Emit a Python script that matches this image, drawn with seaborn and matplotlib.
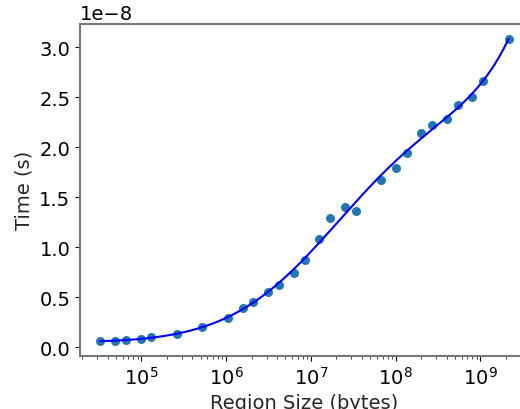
import numpy as np
import pandas as pd
import matplotlib
matplotlib.use("Agg")
import matplotlib.pyplot as plt
import seaborn as sns

sizes = [32768, 49152, 65536, 98304, 131072, 262144, 524288, 1048576,
         1572864, 2097152, 3145728, 4194304, 6291456, 8388608, 12582912,
         16777216, 25165824, 33554432, 67108864, 100663296, 134217728,
         201326592, 268435456, 402653184, 536870912, 805306368,
         1073741824, 2147483648]
times_e8 = [0.064, 0.064, 0.070, 0.084, 0.100, 0.137, 0.204, 0.297,
            0.390, 0.450, 0.554, 0.620, 0.740, 0.877, 1.080,
            1.297, 1.404, 1.364, 1.674, 1.797, 1.940,
            2.147, 2.220, 2.287, 2.424, 2.507,
            2.667, 3.087]

x = np.array(sizes, dtype=float)
y = np.array(times_e8) * 1e-8
df = pd.DataFrame({"size": x, "time": y})

# smooth fit: polynomial in log-log space
lx = np.log10(x)
coef = np.polyfit(lx, np.log10(y), 5)
xs = np.logspace(lx.min(), lx.max(), 300)
fit = pd.DataFrame({"size": xs, "time": 10 ** np.polyval(coef, np.log10(xs))})

sns.set_style("ticks")
plt.rcParams["font.family"] = ["DejaVu Sans"]

fig = plt.figure(figsize=(5.2, 4.1), dpi=100)
ax = fig.add_axes([80/520, 53/410, 449/520, 332.5/410])
sns.scatterplot(data=df, x="size", y="time", ax=ax, color="#1f77b4",
                s=42, linewidth=0, zorder=2)
sns.lineplot(data=fit, x="size", y="time", ax=ax, color="blue",
             linewidth=1.5, zorder=3)
ax.set_xscale("log")
lmin, lmax = lx.min(), lx.max()
ax.set_xlim(10 ** (lmin - 0.05 * (lmax - lmin)), 10 ** (lmax + 0.05 * (lmax - lmin)))
ymin, ymax = y.min(), y.max()
ax.set_ylim(ymin - 0.05 * (ymax - ymin), ymax + 0.05 * (ymax - ymin))
ax.set_xlabel("Region Size (bytes)", fontsize=14)
ax.set_ylabel("Time (s)", fontsize=14)
ax.tick_params(labelsize=14, colors="black")
for sp in ax.spines.values():
    sp.set_color("#777777")
    sp.set_linewidth(1.5)
ax.yaxis.get_offset_text().set_fontsize(14)
fig.savefig("out.png", dpi=100)
